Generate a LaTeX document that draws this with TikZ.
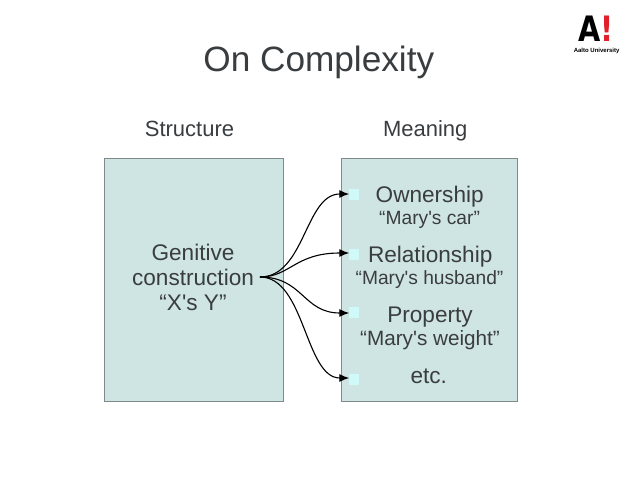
\documentclass[tikz,border=0pt]{standalone}
\usepackage{fontspec}
\setmainfont{Liberation Sans}[Ligatures=TeXOff]
\newfontfamily\logofont{DejaVu Sans}[Ligatures=TeXOff]
\usetikzlibrary{arrows.meta}
\definecolor{boxfill}{HTML}{CFE5E3}
\definecolor{boxline}{HTML}{808A8A}
\definecolor{ink}{HTML}{3A3D3F}
\definecolor{bulletc}{HTML}{D0F9F9}
\definecolor{aaltored}{HTML}{E2202C}
\newcommand{\fs}[1]{\fontsize{#1}{#1}\selectfont}
\tikzset{
  x=1pt,y=-1pt,
  panel/.style={draw=boxline,fill=boxfill,line width=0.8pt,minimum width=#1,minimum height=243pt,inner sep=0pt},
  big/.style={text=ink,font=\fs{22.6},inner sep=0pt,anchor=base},
  small/.style={text=ink,font=\fs{19.2},inner sep=0pt,anchor=base},
  head/.style={text=ink,font=\fs{22},inner sep=0pt,anchor=base},
  bul/.style={fill=bulletc,minimum width=9.5pt,minimum height=11pt,inner sep=0pt},
  conn/.style={draw=black,line width=1.1pt,-{Latex[length=10pt,width=8pt]}}
}
\begin{document}
\begin{tikzpicture}
\useasboundingbox (0,0) rectangle (638,479);
\fill[white] (0,0) rectangle (638,479);
\node[text=ink,font=\fs{35.2},inner sep=0pt,anchor=base] (title) at (318.8,71.5) {On Complexity};
\node[head] (structure) at (189.5,136) {Structure};
\node[head] (meaning) at (425.2,136) {Meaning};
\node[panel=179pt] (left) at (193.5,279.5) {};
\node[panel=176pt] (right) at (429,279.5) {};
\node[big] (gen1) at (193,260) {Genitive};
\node[big] (gen2) at (193,285) {construction};
\node[big] (gen3) at (193,310) {“X's Y”};
\node[bul] (b1) at (354,194.5) {};
\node[bul] (b2) at (354,254.5) {};
\node[bul] (b3) at (354,312.5) {};
\node[bul] (b4) at (354,379) {};
\node[big] (own) at (429.7,202) {Ownership};
\node[small] (car) at (429.6,224.3) {“Mary's car”};
\node[big] (rel) at (430.2,262.3) {Relationship};
\node[small] (hus) at (429.5,284) {“Mary's husband”};
\node[big] (prop) at (430,322.3) {Property};
\node[small,font=\fs{20.7}] (wei) at (430,345) {“Mary's weight”};
\node[big] (etc) at (428.8,383.3) {etc.};
\coordinate (src) at (260,277);
\coordinate (t1) at (349.3,194);
\coordinate (t2) at (349.3,253);
\coordinate (t3) at (349.3,313);
\coordinate (t4) at (349.3,378);
\draw[conn] (src) .. controls (305,277) and (305,194) .. (t1);
\draw[conn] (src) .. controls (290,277) and (295,253) .. (t2);
\draw[conn] (src) .. controls (303,277) and (303,313) .. (t3);
\draw[conn] (src) .. controls (305,277) and (305,378) .. (t4);
% logo
\node[inner sep=0pt,font=\logofont\bfseries\fs{35},anchor=base west,xscale=.82,text depth=0pt] (logoA) at (578,41.7) {A\textcolor{aaltored}{!}};
\node[inner sep=0pt,font=\bfseries\fs{6},anchor=base,text height=4.5pt] (logoT) at (596.6,52.5) {Aalto University};
\end{tikzpicture}
\end{document}
